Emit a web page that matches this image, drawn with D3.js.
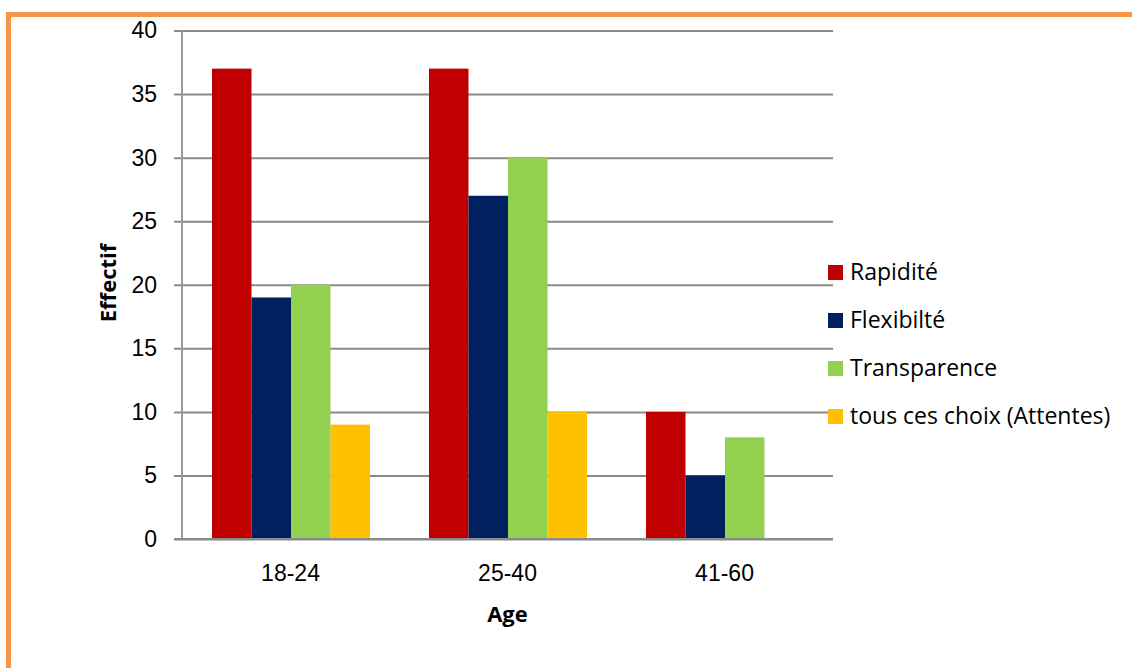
<!DOCTYPE html>
<html>
<head>
<meta charset="utf-8">
<script src="https://cdn.jsdelivr.net/npm/d3@7"></script>
<style>
	body { margin: 0; background: #fff; }
	svg { display: block; font-family: 'Open Sans', sans-serif; }
</style>
</head>
<body>
<div id="chart"></div>
<script>
const categories = ['18-24', '25-40', '41-60'];
const seriesNames = ['Rapidité', 'Flexibilté', 'Transparence', 'tous ces choix (Attentes)'];
const rapidite = [37, 37, 10];
const flexibilite = [19, 27, 5];
const transparence = [20, 30, 8];
const tousChoix = [9, 10, 0];
const yTicks = [0, 5, 10, 15, 20, 25, 30, 35, 40];
const colors = ['#C00000', '#002060', '#92D050', '#FFC000'];

const series = [rapidite, flexibilite, transparence, tousChoix];

const width = 1132;
const height = 668;
const margin = { top: 30.5, right: 299, bottom: 129, left: 182 };

const svg = d3.select('#chart').append('svg')
	.attr('width', width)
	.attr('height', height);

// orange frame, runs off the right and bottom edges
svg.append('path')
	.attr('d', `M8.5,${height + 5} V14.5 H${width + 5}`)
	.attr('fill', 'none')
	.attr('stroke', '#F79646')
	.attr('stroke-width', 5);

const innerW = width - margin.left - margin.right;
const innerH = height - margin.top - margin.bottom;

const plot = svg.append('g')
	.attr('transform', `translate(${margin.left},${margin.top})`);

const x = d3.scaleBand()
	.domain(categories)
	.range([0, innerW])
	.paddingInner(0)
	.paddingOuter(0);

const xSub = d3.scaleBand()
	.domain(d3.range(series.length))
	.range([30, x.bandwidth() - 29])
	.padding(0);

const y = d3.scaleLinear()
	.domain([0, 40])
	.range([innerH, 0]);

// gridlines + y labels
const yAxis = d3.axisLeft(y)
	.tickValues(yTicks)
	.tickSize(-innerW - 8)
	.tickFormat(d3.format('d'));

const yg = plot.append('g')
	.attr('transform', 'translate(-8,0)')
	.call(yAxis);
yg.select('.domain').remove();
yg.selectAll('.tick line')
	.attr('stroke', '#8a8a8a')
	.attr('stroke-width', 2);
yg.selectAll('.tick text')
	.attr('x', -17)
	.attr('fill', '#000')
	.style('font-size', '23px');

// y axis line
plot.append('line')
	.attr('x1', 0).attr('x2', 0)
	.attr('y1', 0).attr('y2', innerH)
	.attr('stroke', '#9a9a9a')
	.attr('stroke-width', 2);

// bars
categories.forEach((cat, ci) => {
	series.forEach((vals, si) => {
		if (!vals[ci]) return;
		plot.append('rect')
			.attr('x', x(cat) + xSub(si))
			.attr('y', y(vals[ci]))
			.attr('width', xSub.bandwidth())
			.attr('height', y(0) - y(vals[ci]))
			.attr('fill', colors[si]);
	});
});

// x axis
const xAxis = d3.axisBottom(x).tickSize(0).tickPadding(26);
const xg = plot.append('g')
	.attr('transform', `translate(0,${innerH})`)
	.call(xAxis);
xg.select('.domain').remove();
xg.selectAll('.tick text')
	.attr('fill', '#000')
	.style('font-size', '23px');

plot.append('line')
	.attr('x1', -8).attr('x2', innerW)
	.attr('y1', innerH).attr('y2', innerH)
	.attr('stroke', '#8a8a8a')
	.attr('stroke-width', 2);

// axis titles
svg.append('text')
	.attr('x', margin.left + innerW / 2)
	.attr('y', 622)
	.attr('text-anchor', 'middle')
	.style('font-size', '22px')
	.style('font-weight', 'bold')
	.text('Age');

svg.append('text')
	.attr('transform', 'translate(116,283) rotate(-90)')
	.attr('text-anchor', 'middle')
	.style('font-size', '22px')
	.style('font-weight', 'bold')
	.text('Effectif');

// legend
const legend = svg.append('g')
	.attr('transform', 'translate(828,265)');

const rows = legend.selectAll('g')
	.data(seriesNames)
	.enter()
	.append('g')
	.attr('transform', (d, i) => `translate(0,${i * 48})`);

rows.append('rect')
	.attr('width', 15)
	.attr('height', 15)
	.attr('fill', (d, i) => colors[i]);

rows.append('text')
	.attr('x', 22)
	.attr('y', 15)
	.style('font-size', '23px')
	.text((d) => d);
</script>
</body>
</html>
